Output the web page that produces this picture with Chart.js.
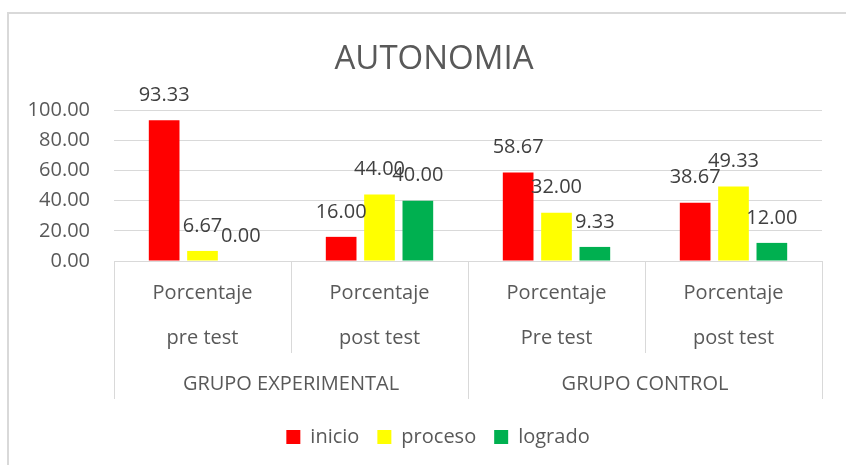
<!DOCTYPE html>
<html>
<head>
<meta charset="utf-8">
<title>AUTONOMIA</title>
<script src="https://cdn.jsdelivr.net/npm/chart.js@4"></script>
<style>
  html, body { margin: 0; padding: 0; background: #fff; overflow: hidden; }
  #wrap { position: relative; width: 846px; height: 465px; }
  /* outer chart frame, cropped by the window on the right and bottom */
  #frame { position: absolute; left: 7px; top: 12px; width: 900px; height: 520px;
           border: 2px solid #d9d9d9; box-sizing: border-box; }
  #chart { position: absolute; left: 0; top: 0; }
</style>
</head>
<body>
<div id="wrap">
  <div id="frame"></div>
  <canvas id="chart" width="846" height="465"></canvas>
</div>
<script>
// --- data ---
const tickTop = ['Porcentaje', 'Porcentaje', 'Porcentaje', 'Porcentaje'];
const tickBottom = ['pre test', 'post test', 'Pre test', 'post test'];
const groups = ['GRUPO EXPERIMENTAL', 'GRUPO CONTROL'];
const groupSize = 2;

const inicio = [93.33, 16.00, 58.67, 38.67];
const proceso = [6.67, 44.00, 32.00, 49.33];
const logrado = [0.00, 40.00, 9.33, 12.00];

const yMin = 0;
const yMax = 100;
const yStep = 20;

// --- look ---
const FONT = "'Open Sans', sans-serif";
const axisColor = '#595959';
const labelColor = '#404040';
const lineColor = '#d9d9d9';

const labels = tickTop.map((t, i) => [t, tickBottom[i]]);

// value labels above each bar
const valueLabels = {
  id: 'valueLabels',
  afterDatasetsDraw(chart) {
    const ctx = chart.ctx;
    ctx.save();
    ctx.font = `20px ${FONT}`;
    ctx.fillStyle = labelColor;
    ctx.textAlign = 'center';
    ctx.textBaseline = 'middle';
    chart.data.datasets.forEach((ds, di) => {
      chart.getDatasetMeta(di).data.forEach((bar, i) => {
        ctx.fillText(ds.data[i].toFixed(2), bar.x, bar.y - 25);
      });
    });
    ctx.restore();
  }
};

// category separators and group labels under the x axis
const groupAxis = {
  id: 'groupAxis',
  afterDraw(chart) {
    const xs = chart.scales.x;
    const ctx = chart.ctx;
    const n = chart.data.labels.length;
    const edge = (i) => {
      if (i === 0) return xs.left;
      if (i === n) return xs.right;
      return (xs.getPixelForValue(i - 1) + xs.getPixelForValue(i)) / 2;
    };
    ctx.save();
    ctx.strokeStyle = lineColor;
    ctx.lineWidth = 1;
    for (let i = 0; i <= n; i++) {
      const x = Math.round(edge(i)) + 0.5;
      const len = i % groupSize === 0 ? 138 : 92;
      ctx.beginPath();
      ctx.moveTo(x, xs.top);
      ctx.lineTo(x, xs.top + len);
      ctx.stroke();
    }
    ctx.font = `20px ${FONT}`;
    ctx.fillStyle = axisColor;
    ctx.textAlign = 'center';
    ctx.textBaseline = 'middle';
    groups.forEach((g, gi) => {
      const cx = (edge(gi * groupSize) + edge((gi + 1) * groupSize)) / 2;
      ctx.fillText(g, cx, xs.top + 123);
    });
    ctx.restore();
  }
};

// title and legend sit a bit right of the canvas centre, as in the original
const nudgeBoxes = {
  id: 'nudgeBoxes',
  afterLayout(chart) {
    chart.titleBlock.left += 46;
    chart.legend.left += 54;
  }
};

new Chart(document.getElementById('chart'), {
  type: 'bar',
  data: {
    labels: labels,
    datasets: [
      { label: 'inicio', data: inicio, backgroundColor: '#ff0000' },
      { label: 'proceso', data: proceso, backgroundColor: '#ffff00' },
      { label: 'logrado', data: logrado, backgroundColor: '#00b050' }
    ]
  },
  options: {
    responsive: false,
    animation: false,
    devicePixelRatio: 1,
    categoryPercentage: 0.65,
    barPercentage: 0.8,
    layout: { padding: { top: 20, right: 24, bottom: 8, left: 0 } },
    plugins: {
      title: {
        display: true,
        text: 'AUTONOMIA',
        color: axisColor,
        font: { family: FONT, size: 33, weight: 'normal' },
        padding: { top: 20, bottom: 30.5 }
      },
      legend: {
        position: 'bottom',
        labels: {
          boxWidth: 14,
          boxHeight: 14,
          padding: 18,
          color: axisColor,
          font: { family: FONT, size: 20 }
        }
      },
      tooltip: { enabled: false }
    },
    scales: {
      x: {
        grid: { display: false },
        border: { display: true, color: lineColor },
        ticks: {
          color: axisColor,
          font: { family: FONT, size: 20, lineHeight: 2.25 },
          padding: 1.5,
          autoSkip: false,
          maxRotation: 0
        },
        afterFit: (s) => { s.height = 148; }
      },
      y: {
        min: yMin,
        max: yMax,
        grid: { color: lineColor, drawTicks: false },
        border: { display: false },
        ticks: {
          stepSize: yStep,
          color: axisColor,
          font: { family: FONT, size: 20 },
          padding: 24,
          callback: (v) => v.toFixed(2)
        },
        afterFit: (s) => { s.width = 114; }
      }
    }
  },
  plugins: [valueLabels, groupAxis, nudgeBoxes]
});
</script>
</body>
</html>
